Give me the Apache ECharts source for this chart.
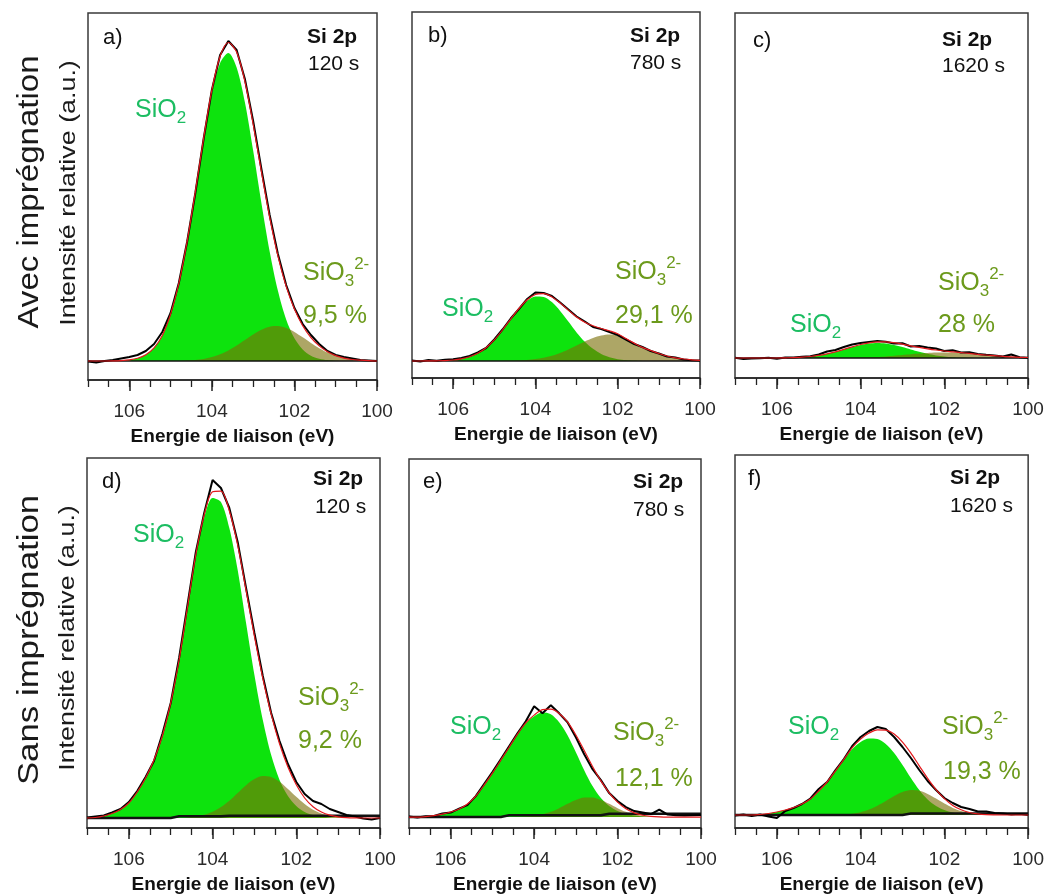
<!DOCTYPE html>
<html>
<head>
<meta charset="utf-8">
<script src="https://cdn.jsdelivr.net/npm/echarts@6/dist/echarts.min.js"></script>
<style>html,body{margin:0;padding:0;background:#fff}#c{width:1047px;height:895px}</style>
</head>
<body>
<div id="c"></div>
<script>
// Binding energy grid (eV)
const energies = [107.0,106.8,106.6,106.4,106.2,106.0,105.8,105.6,105.4,105.2,105.0,104.8,104.6,104.4,104.2,104.0,103.8,103.6,103.4,103.2,103.0,102.8,102.6,102.4,102.2,102.0,101.8,101.6,101.4,101.2,101.0,100.8,100.6,100.4,100.2,100.0];
const xTickLabels = [100, 102, 104, 106];

// a) Avec imprégnation, 120 s
const expA  = [-0.5,-1.5,0,1,2.5,4,6,10,17,29,48,78,119,168,222,271,306,320,311,282,240,192,146,107,76,53,37,26,17,10,6,4,2.5,1,0.5,0];
const fitA  = [0,0,0,0.1,0.4,1.1,2.7,6.3,13.2,25.6,46.8,77.6,119.4,169.3,222.6,270.9,304.7,318.5,308.9,279.7,237,189.3,143.9,105.1,74.6,51.9,35.3,23.4,15.1,9.3,5.4,2.9,1.5,0.8,0.3,0];
const sio2A = [0,0,0,0.1,0.4,1.1,2.7,6.3,13.2,25.6,46.8,77.6,118.9,168.2,220.5,267,298,308,293.5,258.7,210.4,158,109.6,70.2,41.6,22.8,11.6,5.3,2.3,0.9,0.3,0,0,0,0,0];
const sio3A = [0,0,0,0,0,0,0,0,0,0,0,0,0.5,1.1,2.1,3.9,6.7,10.5,15.4,21,26.6,31.3,34.3,34.9,33,29.1,23.7,18.1,12.8,8.4,5.1,2.9,1.5,0.8,0.3,0];
const bgA   = [0,0,0,0,0,0,0,0,0,0,0,0,0,0,0,0,0,0,0,0,0,0,0,0,0,0,0,0,0,0,0,0,0,0,0,0];

// b) Avec imprégnation, 780 s
const expB  = [0.5,-0.5,1.0,0.3,1.2,1.8,3.0,5.0,8.5,13.0,21.5,31.5,42.5,52.0,62.0,68.5,68.0,65.0,58.5,51.5,44.5,39.5,34.0,32.0,29.0,26.0,21.5,17.0,14.0,10.0,7.5,4.5,3.5,1.5,0.8,0.5];
const fitB  = [0,0,0.1,0.2,0.4,1.0,2.2,4.3,7.8,13.3,21.1,31.0,41.9,52.5,61.2,66.5,67.3,64.1,58.1,50.9,44.1,38.8,35.2,32.5,30.2,27.3,22.4,17.9,13.6,10.5,7.5,5,3.2,2,1.2,0.6];
const sio2B = [0,0,0.1,0.2,0.4,1.0,2.2,4.3,7.8,13.3,21.1,30.9,41.7,52,60.2,64.6,64.1,58.9,50.1,39.4,28.6,19.3,12.2,7.0,3.7,1.8,0.9,0.4,0.1,0,0,0,0,0,0,0];
const sio3B = [0,0,0,0,0,0,0,0,0,0,0,0.1,0.2,0.5,1.0,1.9,3.2,5.2,8,11.5,15.5,19.5,23,25.5,26.5,25.5,21.5,17.5,13.5,10.5,7.5,5,3.2,2,1.2,0.6];
const bgB   = [0,0,0,0,0,0,0,0,0,0,0,0,0,0,0,0,0,0,0,0,0,0,0,0,0,0,0,0,0,0,0,0,0,0,0,0];

// c) Avec imprégnation, 1620 s
const expC  = [0.3,-1.0,-0.5,-0.3,0.2,-0.8,0.6,0.4,1.2,1.8,3.5,6.5,8.0,11.0,13.5,15.0,16.0,17.0,16.3,14.5,14.8,11.5,12.0,10.5,9.5,7.0,7.8,5.5,5.8,4.0,3.2,2.5,1.5,3.5,0.8,0.3];
const fitC  = [0,0,0,0,0,0,0.2,0.4,0.8,1.5,2.6,4.2,6.2,8.6,11.2,13.5,15.2,16.1,16.1,15.3,13.9,12.2,10.6,9.2,8.0,7.0,6.2,5.4,4.6,3.7,3.0,2.3,1.6,1.1,0.7,0.5];
const sio2C = [0,0,0,0,0,0,0.2,0.4,0.8,1.5,2.6,4.2,6.2,8.5,10.9,13.0,14.5,15,14.5,13.0,10.9,8.5,6.2,4.2,2.6,1.5,0.8,0.4,0.2,0,0,0,0,0,0,0];
const sio3C = [0,0,0,0,0,0,0,0,0,0,0,0,0,0.15,0.3,0.5,0.7,1.1,1.6,2.3,3.0,3.7,4.4,5.0,5.4,5.5,5.4,5.0,4.4,3.7,3.0,2.3,1.6,1.1,0.7,0.5];
const bgC   = [0,0,0,0,0,0,0,0,0,0,0,0,0,0,0,0,0,0,0,0,0,0,0,0,0,0,0,0,0,0,0,0,0,0,0,0];

// d) Sans imprégnation, 120 s
const expD  = [0.5,1.5,2.5,5.5,9,16,27,41,57,84,115,160,213,266,305,338,330,310,276,230,185,142,105,77,54,36,24,17,14,9,6,3,1.5,-0.5,-1.5,0];
const fitD  = [0,0.5,2,4.5,8.5,15,26,40,58,82,115,158,210.6,263.5,303.2,326.2,326.9,307.3,273,227.8,181.9,139.9,103.9,74.2,51,33.2,20,11.3,6,2.8,1.2,0.4,0.1,0,0,0];
const sio2D = [0,0.5,2,4.5,8.5,15,26,40,58,82,115,158,210,262,300,320,316,290,248,195,143,98,63,38,22,12,6,3,1.5,0.6,0.2,0,0,0,0,0];
const sio3D = [0,0,0,0,0,0,0,0,0,0,0,0,0.6,1.5,3.2,6.2,10.9,17.3,25,32.8,38.9,41.9,40.9,36.2,29,21.2,14,8.3,4.5,2.2,1.0,0.4,0.1,0,0,0];
const bgD   = [0,0,0,0,0,0,0,0,0,0,0,1.7,1.7,1.7,1.7,1.7,1.7,2.3,2.3,2.3,2.3,2.3,2.3,2.3,2.3,2.3,2.3,2.3,2.3,2.3,2.3,2.3,2.3,2.3,2.3,2.3];

// e) Sans imprégnation, 780 s
const expE  = [0.5,-0.5,0.8,1.0,3.5,4.5,8.5,12,21,33,45,58,71,84,96,111,104,112,104,95,80,63,48,37,24,16,10,6,4.5,3,7.5,2.5,1.8,1.5,1.8,2];
const fitE  = [0,0,0.5,1.5,3,5,8,13,21,32,44,57,70,83.2,94.5,102.2,107.7,108.2,103.9,95.3,82.2,66.7,50.7,36.2,24.3,14.9,8.2,4.2,1.8,0.7,0.2,0,0,0,0,0];
const sio2E = [0,0,0.5,1.5,3,5,8,13,21,32,44,57,70,83,94,101,105,103,95,82,65,47,31,19,11,6,3,1.5,0.6,0.2,0,0,0,0,0,0];
const sio3E = [0,0,0,0,0,0,0,0,0,0,0,0,0,0.2,0.5,1.2,2.7,5.2,8.9,13.3,17.2,19.7,19.7,17.2,13.3,8.9,5.2,2.7,1.2,0.5,0.2,0,0,0,0,0];
const bgE   = [0,0,0,0,0,0,0,0,0,0,0,0,1.7,1.7,1.7,1.7,1.7,1.7,1.7,1.7,1.7,1.7,1.7,1.7,3.3,3.3,3.3,3.3,3.3,3.3,3.3,3.3,3.3,3.3,3.3,3.3];

// f) Sans imprégnation, 1620 s
const expF  = [-0.5,0.5,-1,0.5,-1.5,-3,4,7,11,16.5,26,33,45,56,69,78,84,88,86,78,68,57,45,34,25,17,12,8,6,3.5,3.5,2,1.5,0.5,1,0];
const fitF  = [0,0,0,0.5,1.5,3,5,7.5,11,16,24,33,44.2,55.6,67.4,75.9,81.9,85.2,84.9,80.9,72.9,61.9,49.2,36.6,25.4,16.4,9.6,5.2,2.5,1.1,0.35,0.1,0,0,0,0];
const sio2F = [0,0,0,0.5,1.5,3,5,7.5,11,16,24,33,44,55,66,73,76.5,76,71,62,50,37,25,15.5,9,5,2.5,1.2,0.5,0.2,0,0,0,0,0,0];
const sio3F = [0,0,0,0,0,0,0,0,0,0,0,0,0.2,0.6,1.35,2.85,5.4,9.2,13.9,18.9,22.9,24.9,24.2,21.1,16.4,11.4,7.1,4.0,2.0,0.9,0.35,0.1,0,0,0,0];
const bgF   = [0,0,0,0,0,0,0,0,0,0,0,0,0,0,0,0,0,0,0,0,0,1.5,1.5,1.5,1.5,1.5,1.5,1.5,1.5,1.5,1.5,1.5,1.5,1.5,1.5,1.5];

// Labels
const panelLetters = ['a)', 'b)', 'c)', 'd)', 'e)', 'f)'];
const coreLevel = 'Si 2p';
const times = ['120 s', '780 s', '1620 s', '120 s', '780 s', '1620 s'];
const sio3Percents = ['9,5 %', '29,1 %', '28 %', '9,2 %', '12,1 %', '19,3 %'];
const rowTitles = ['Avec imprégnation', 'Sans imprégnation'];
const yAxisTitle = 'Intensité relative (a.u.)';
const xAxisTitle = 'Energie de liaison (eV)';

const exps  = [expA, expB, expC, expD, expE, expF];
const fits  = [fitA, fitB, fitC, fitD, fitE, fitF];
const sio2s = [sio2A, sio2B, sio2C, sio2D, sio2E, sio2F];
const sio3s = [sio3A, sio3B, sio3C, sio3D, sio3E, sio3F];
const bgs   = [bgA, bgB, bgC, bgD, bgE, bgF];

// ---------- layout (pixels) ----------
const layout = [
  {left: 88,  top: 13,  width: 289, height: 367, ymin: -19, ymax: 348, bgW: 1.5},
  {left: 412, top: 12,  width: 288, height: 366, ymin: -17, ymax: 349, bgW: 1.5},
  {left: 735, top: 13,  width: 293, height: 365, ymin: -20, ymax: 345, bgW: 1.5},
  {left: 87,  top: 458, width: 293, height: 370, ymin: -10, ymax: 360, bgW: 2.5},
  {left: 409, top: 459, width: 292, height: 370, ymin: -11, ymax: 359, bgW: 2.5},
  {left: 735, top: 455, width: 294, height: 373, ymin: -13, ymax: 360, bgW: 2.5}
];
const textPos = [
  {letter:[103,38], si:[307,37], time:[308,64], sio2:[135,110], sio3:[303,273], pct:[303,316]},
  {letter:[428,36], si:[630,36], time:[630,63], sio2:[442,309], sio3:[615,272], pct:[615,316]},
  {letter:[753,41], si:[942,40], time:[942,66], sio2:[790,325], sio3:[938,283], pct:[938,325]},
  {letter:[102,482], si:[313,479], time:[315,507], sio2:[133,535], sio3:[298,698], pct:[298,741]},
  {letter:[423,482], si:[633,482], time:[633,510], sio2:[450,727], sio3:[613,733], pct:[615,779]},
  {letter:[748,479], si:[950,478], time:[950,506], sio2:[788,727], sio3:[942,727], pct:[943,772]}
];

const FONT = 'Liberation Sans, Arial, Helvetica, sans-serif';
const GREEN_FILL = '#0de30d';
const OLIVE_FILL = 'rgba(122,112,8,0.62)';
const SIO2_TXT = '#1cbd62';
const SIO3_TXT = '#6c9a1c';

const pairs = (vals) => energies.map((e, i) => [e, vals[i]]);

const grids = [], xAxes = [], yAxes = [], series = [], graphic = [];

layout.forEach((L, p) => {
  grids.push({left: L.left, top: L.top, width: L.width, height: L.height,
    show: true, borderColor: '#3a3a3a', borderWidth: 1.5, backgroundColor: 'transparent'});
  xAxes.push({
    gridIndex: p, type: 'value', min: 100, max: 107, interval: 2, inverse: true, position: 'bottom',
    axisLine: {show: true, onZero: false, lineStyle: {color: '#222', width: 1.5}},
    axisTick: {show: true, inside: false, length: 11, lineStyle: {color: '#222', width: 1.5}},
    minorTick: {show: false},
    splitLine: {show: false},
    axisLabel: {show: true, margin: 22, fontSize: 19, color: '#2a2a2a', fontFamily: FONT,
      showMaxLabel: false,
      formatter: (v) => (xTickLabels.indexOf(Math.round(v)) >= 0 && Math.abs(v - Math.round(v)) < 1e-6) ? String(Math.round(v)) : ''},
    name: xAxisTitle, nameLocation: 'middle', nameGap: 47,
    nameTextStyle: {fontSize: 19, fontWeight: 'bold', color: '#111', fontFamily: FONT}
  });
  xAxes.push({
    gridIndex: p, type: 'value', min: 100, max: 107, interval: 0.5, inverse: true, position: 'bottom',
    axisLine: {show: false, onZero: false},
    axisTick: {show: true, inside: false, length: 7, lineStyle: {color: '#222', width: 1.3}},
    axisLabel: {show: false}, splitLine: {show: false}
  });
  yAxes.push({gridIndex: p, type: 'value', min: L.ymin, max: L.ymax, show: false});

  const xi = p * 2, yi = p;
  series.push({type: 'line', xAxisIndex: xi, yAxisIndex: yi, data: pairs(sio2s[p]), smooth: 0.3,
    symbol: 'none', lineStyle: {width: 0}, areaStyle: {color: GREEN_FILL, opacity: 1}, silent: true, z: 2});
  series.push({type: 'line', xAxisIndex: xi, yAxisIndex: yi, data: pairs(sio3s[p]), smooth: 0.3,
    symbol: 'none', lineStyle: {width: 0}, areaStyle: {color: OLIVE_FILL, opacity: 1}, silent: true, z: 3});
  series.push({type: 'line', xAxisIndex: xi, yAxisIndex: yi, data: pairs(bgs[p]),
    symbol: 'none', lineStyle: {width: L.bgW, color: '#111'}, silent: true, z: 4});
  series.push({type: 'line', xAxisIndex: xi, yAxisIndex: yi, data: pairs(exps[p]),
    symbol: 'none', lineStyle: {width: 2, color: '#000'}, silent: true, z: 5});
  series.push({type: 'line', xAxisIndex: xi, yAxisIndex: yi, data: pairs(fits[p]), smooth: 0.3,
    symbol: 'none', lineStyle: {width: 1.2, color: '#e3191c'}, silent: true, z: 6});

  const T = textPos[p];
  graphic.push({type: 'text', x: T.letter[0], y: T.letter[1], z: 100,
    style: {text: panelLetters[p], fill: '#111', fontSize: 22, fontFamily: FONT, align: 'left', verticalAlign: 'middle'}});
  graphic.push({type: 'text', x: T.si[0], y: T.si[1], z: 100,
    style: {text: coreLevel, fill: '#111', fontSize: 21, fontWeight: 'bold', fontFamily: FONT, align: 'left', verticalAlign: 'middle'}});
  graphic.push({type: 'text', x: T.time[0], y: T.time[1], z: 100,
    style: {text: times[p], fill: '#111', fontSize: 21, fontFamily: FONT, align: 'left', verticalAlign: 'middle'}});
  graphic.push({type: 'text', x: T.sio2[0], y: T.sio2[1], z: 100,
    style: {text: 'SiO{sub|2}', fill: SIO2_TXT, fontSize: 25, lineHeight: 34, fontFamily: FONT, align: 'left', verticalAlign: 'middle',
      rich: {sub: {fontSize: 17, lineHeight: 16, verticalAlign: 'bottom', fill: SIO2_TXT, fontFamily: FONT}}}});
  graphic.push({type: 'text', x: T.sio3[0], y: T.sio3[1], z: 100,
    style: {text: 'SiO{sub|3}{sup|2-}', fill: SIO3_TXT, fontSize: 25, lineHeight: 34, fontFamily: FONT, align: 'left', verticalAlign: 'middle',
      rich: {sub: {fontSize: 17, lineHeight: 16, verticalAlign: 'bottom', fill: SIO3_TXT, fontFamily: FONT},
             sup: {fontSize: 17, lineHeight: 20, verticalAlign: 'top', fill: SIO3_TXT, fontFamily: FONT}}}});
  graphic.push({type: 'text', x: T.pct[0], y: T.pct[1], z: 100,
    style: {text: sio3Percents[p], fill: SIO3_TXT, fontSize: 25, fontFamily: FONT, align: 'left', verticalAlign: 'middle'}});
});

// Row titles and y-axis titles (rotated)
[[30, 192, rowTitles[0], 29, 1.14], [30, 640, rowTitles[1], 29, 1.2],
 [69, 193, yAxisTitle, 22, 1.22], [68, 638, yAxisTitle, 22, 1.22]].forEach(([x, y, t, fs, sx]) => {
  graphic.push({type: 'text', x: x, y: y, rotation: Math.PI / 2, scaleX: sx, z: 100,
    style: {text: t, fill: '#1a1a1a', fontSize: fs, fontFamily: FONT, align: 'center', verticalAlign: 'middle'}});
});

const chart = echarts.init(document.getElementById('c'), null, {renderer: 'canvas'});
chart.setOption({
  backgroundColor: '#ffffff',
  animation: false,
  grid: grids, xAxis: xAxes, yAxis: yAxes, series: series, graphic: graphic
});
</script>
</body>
</html>
